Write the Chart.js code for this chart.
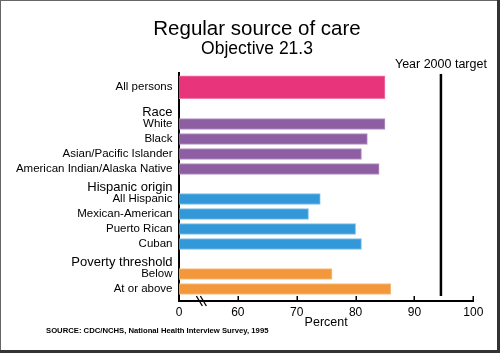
<!DOCTYPE html>
<html>
<head>
<meta charset="utf-8">
<script src="https://cdn.jsdelivr.net/npm/chart.js@4/dist/chart.umd.min.js"></script>
<style>
  html, body { margin: 0; padding: 0; background: #fff; }
  #wrap { width: 500px; height: 353px; }
</style>
</head>
<body>
<div id="wrap"><canvas id="careChart" width="500" height="353"></canvas></div>
<script>
// percent with a regular source of care
const allLabels = ['All persons'];
const allValues = [85];

const raceHeader = 'Race';
const raceLabels = ['White', 'Black', 'Asian/Pacific Islander', 'American Indian/Alaska Native'];
const raceValues = [85, 82, 81, 84];

const hispHeader = 'Hispanic origin';
const hispLabels = ['All Hispanic', 'Mexican-American', 'Puerto Rican', 'Cuban'];
const hispValues = [74, 72, 80, 81];

const povHeader = 'Poverty threshold';
const povLabels = ['Below', 'At or above'];
const povValues = [76, 86];

const target = 94.5;
const xTicks = [50, 60, 70, 80, 90, 100];
const xTickLabels = ['0', '60', '70', '80', '90', '100'];
const breakAt = 53.8;

const FONT = "'Liberation Sans', Arial, Helvetica, sans-serif";
Chart.defaults.font.family = FONT;
Chart.defaults.color = '#000';

const labelFont = { family: FONT, size: 11.5 };
// header sits a bit lower than its row: two-line label with a short line height
const headerFont = { family: FONT, size: 13, lineHeight: '7px' };
const AXIS_W = 165;

function groupAxis(labels, order, rows, hasHeader) {
  return {
    type: 'category',
    position: 'left',
    stack: 'rows',
    stackWeight: rows,
    weight: order,
    labels: labels,
    offset: true,
    grid: { display: false, drawTicks: false },
    border: { display: true, color: '#000', width: 2 },
    ticks: {
      padding: 6.5,
      color: '#000',
      autoSkip: false,
      font: (c) => (hasHeader && c.index === 0) ? headerFont : labelFont,
      callback: function (v, i) {
        const t = this.getLabelForValue(v);
        return (hasHeader && i === 0) ? ['', t] : t;
      }
    },
    afterFit: (s) => { s.width = AXIS_W; }
  };
}

function barSet(values, axis, fill, edge, thick) {
  return {
    data: values,
    yAxisID: axis,
    backgroundColor: fill,
    borderColor: edge,
    borderWidth: 1,
    grouped: false,
    barThickness: thick,
    maxBarThickness: thick,
    categoryPercentage: 1,
    barPercentage: 1
  };
}

const decor = {
  id: 'decor',
  afterDraw(chart) {
    const { ctx, chartArea, scales } = chart;
    const x = scales.x;
    ctx.save();
    ctx.strokeStyle = '#000';
    ctx.fillStyle = '#000';

    // inward tick marks on the x axis
    ctx.lineWidth = 1.5;
    xTicks.slice(1).forEach(v => {
      const px = Math.round(x.getPixelForValue(v)) + 0.25;
      ctx.beginPath();
      ctx.moveTo(px, chartArea.bottom);
      ctx.lineTo(px, chartArea.bottom - 5);
      ctx.stroke();
    });

    // target line + label
    const tx = x.getPixelForValue(target);
    ctx.lineWidth = 2.5;
    ctx.beginPath();
    ctx.moveTo(tx, chartArea.top + 1);
    ctx.lineTo(tx, chartArea.bottom - 5);
    ctx.stroke();
    ctx.font = '12.5px ' + FONT;
    ctx.textAlign = 'center';
    ctx.textBaseline = 'middle';
    ctx.fillText('Year 2000 target', tx, chartArea.top - 8);

    // axis break marks
    const bx = x.getPixelForValue(breakAt);
    const by = chartArea.bottom;
    ctx.lineWidth = 1.3;
    [-2, 2].forEach(d => {
      ctx.beginPath();
      ctx.moveTo(bx + d - 3, by - 5);
      ctx.lineTo(bx + d + 3, by + 5);
      ctx.stroke();
    });

    // source note
    ctx.font = 'bold 7.7px ' + FONT;
    ctx.textAlign = 'left';
    ctx.fillText('SOURCE: CDC/NCHS, National Health Interview Survey, 1995', 46, 331);

    // frame
    ctx.fillStyle = '#666';
    ctx.fillRect(0, 0, 500, 1);
    ctx.fillRect(0, 0, 1, 353);
    ctx.fillStyle = '#333';
    ctx.fillRect(497, 0, 3, 353);
    ctx.fillRect(0, 350, 500, 3);
    ctx.restore();
  }
};

new Chart(document.getElementById('careChart'), {
  type: 'bar',
  data: {
    datasets: [
      barSet(allValues, 'yAll', '#E8347A', '#F07AAA', 23),
      barSet([null, ...raceValues], 'yRace', '#8E5EA2', '#B594C4', 11),
      barSet([null, ...hispValues], 'yHisp', '#3398D8', '#7EC0EA', 11),
      barSet([null, ...povValues], 'yPov', '#F2983A', '#F7C08A', 11)
    ]
  },
  options: {
    indexAxis: 'y',
    responsive: false,
    animation: false,
    layout: { padding: { top: 0, left: 14, right: 0, bottom: 24 } },
    plugins: {
      legend: { display: false },
      tooltip: { enabled: false },
      title: {
        display: true,
        text: 'Regular source of care',
        color: '#000',
        font: { family: FONT, size: 20.5, weight: 'normal', lineHeight: 1.2 },
        padding: { top: 16.7, bottom: -1 }
      },
      subtitle: {
        display: true,
        text: 'Objective 21.3',
        color: '#000',
        font: { family: FONT, size: 17.5, weight: 'normal', lineHeight: 1 },
        padding: { top: 0, bottom: 15.2 }
      }
    },
    scales: {
      x: {
        type: 'linear',
        position: 'bottom',
        min: 50,
        max: 100,
        afterBuildTicks: (s) => { s.ticks = xTicks.map(v => ({ value: v })); },
        afterFit: (s) => { s.height = 28; },
        grid: { display: false, drawTicks: false },
        border: { display: true, color: '#000', width: 2 },
        ticks: {
          padding: 5.5,
          color: '#000',
          maxRotation: 0,
          font: { family: FONT, size: 12, lineHeight: 1 },
          callback: (v, i) => xTickLabels[i]
        },
        title: {
          display: true,
          text: 'Percent',
          color: '#000',
          font: { family: FONT, size: 12.5, lineHeight: 1 },
          padding: { top: 0, bottom: 0 }
        }
      },
      yAll: groupAxis(allLabels, 5, 28.5, false),
      yRace: groupAxis([raceHeader, ...raceLabels], 4, 75, true),
      yHisp: groupAxis([hispHeader, ...hispLabels], 3, 75, true),
      yPov: groupAxis([povHeader, ...povLabels], 2, 45, true),
      ySpace: {
        type: 'category',
        position: 'left',
        stack: 'rows',
        stackWeight: 4.5,
        weight: 1,
        labels: [''],
        grid: { display: false, drawTicks: false },
        border: { display: true, color: '#000', width: 2 },
        ticks: { display: false },
        afterFit: (s) => { s.width = AXIS_W; }
      },
      // empty margin on the right so the titles centre where the original's do
      yRight: {
        type: 'category',
        position: 'right',
        labels: [''],
        grid: { display: false, drawTicks: false },
        border: { display: false },
        ticks: { display: false },
        afterFit: (s) => { s.width = 26.7; }
      }
    }
  },
  plugins: [decor]
});
</script>
</body>
</html>
